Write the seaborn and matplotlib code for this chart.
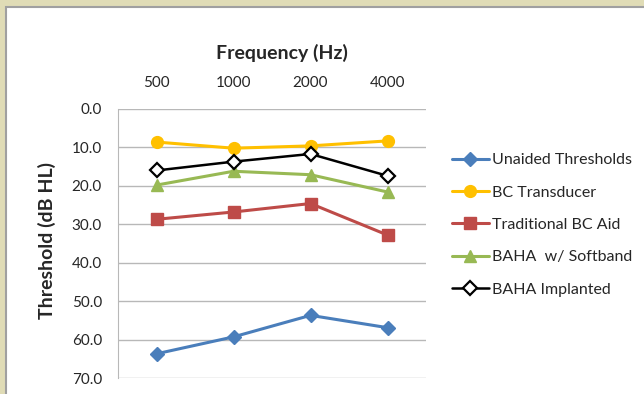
import matplotlib
matplotlib.use("Agg")
import matplotlib.pyplot as plt
from matplotlib.patches import Rectangle
from matplotlib.colors import to_hex
import seaborn as sns
import pandas as pd

freqs = ["500", "1000", "2000", "4000"]
unaided = [63.7, 59.3, 53.7, 56.9]
bc_transducer = [8.6, 10.2, 9.6, 8.3]
traditional_bc = [28.7, 26.8, 24.6, 32.8]
baha_softband = [19.8, 16.2, 17.1, 21.6]
baha_implanted = [16.0, 13.7, 11.7, 17.4]

series = {
    "Unaided Thresholds": unaided,
    "BC Transducer": bc_transducer,
    "Traditional BC Aid": traditional_bc,
    "BAHA  w/ Softband": baha_softband,
    "BAHA Implanted": baha_implanted,
}
rows = []
for name, vals in series.items():
    for f, v in zip(freqs, vals):
        rows.append({"freq": f, "thr": v, "series": name})
df = pd.DataFrame(rows)

colors = {"Unaided Thresholds": "#4a7ebb", "BC Transducer": "#ffc000",
          "Traditional BC Aid": "#be4b48", "BAHA  w/ Softband": "#98b954",
          "BAHA Implanted": "#000000"}
markers = {"Unaided Thresholds": "D", "BC Transducer": "o",
           "Traditional BC Aid": "s", "BAHA  w/ Softband": "^",
           "BAHA Implanted": "D"}

sns.set_style("white")
plt.rcParams['font.family'] = ['Lato', 'DejaVu Sans']

fig = plt.figure(figsize=(6.44, 3.94), dpi=100)
fig.patch.set_facecolor("#e0dcb6")
fig.patches.append(Rectangle((6/644, -0.1), 1.1, 1.1 - 7/394, transform=fig.transFigure,
                             facecolor="white", edgecolor="#a0a0a0", linewidth=1.5, zorder=-10))

ax = fig.add_axes([118/644, 16/394, 308/644, 269/394])
ax.set_facecolor("none")
sns.lineplot(data=df, x="freq", y="thr", hue="series", style="series",
             palette=colors, markers=markers, dashes=False, linewidth=2.2,
             markersize=8.5, sort=False, ax=ax)


def fix_marker(line):
    c = to_hex(line.get_color())
    line.set_markeredgecolor(c)
    line.set_markerfacecolor(c)
    line.set_markeredgewidth(1)
    if line.get_marker() == "D":
        line.set_markersize(7.5)
    if c == "#000000":
        line.set_markerfacecolor("white")
        line.set_markeredgewidth(1.6)
        line.set_linewidth(1.8)


for line in ax.lines:
    fix_marker(line)

ax.set_xlim(-0.5, 3.5)
ax.set_ylim(70, 0)
ax.set_yticks(range(0, 71, 10))
ax.set_yticklabels([f"{v:.1f}" for v in range(0, 71, 10)], fontsize=11)
ax.yaxis.grid(True, color="#b8b8b8", linewidth=1)
ax.xaxis.tick_top()
ax.tick_params(axis="x", length=0, pad=14, labelsize=11)
ax.tick_params(axis="y", length=0, pad=11.5)
for s in ["top", "right", "bottom"]:
    ax.spines[s].set_visible(False)
ax.spines["left"].set_color("#b8b8b8")
ax.set_xlabel("Frequency (Hz)", fontsize=14, fontweight="bold")
ax.xaxis.set_label_position("top")
ax.xaxis.set_label_coords(0.532, 1.186)
ax.set_ylabel("Threshold (dB HL)", fontsize=14, fontweight="bold")
ax.yaxis.set_label_coords(-0.201, 0.513)

handles, labels = ax.get_legend_handles_labels()
for h in handles:
    fix_marker(h)
leg = ax.legend(handles, labels, loc="center left", bbox_to_anchor=(452/644, 0.429),
                bbox_transform=fig.transFigure, frameon=False, fontsize=11.5,
                handlelength=2.3, handletextpad=0.19, labelspacing=1.14,
                borderpad=0, borderaxespad=0)

fig.savefig("out.png", dpi=100, facecolor=fig.get_facecolor())
